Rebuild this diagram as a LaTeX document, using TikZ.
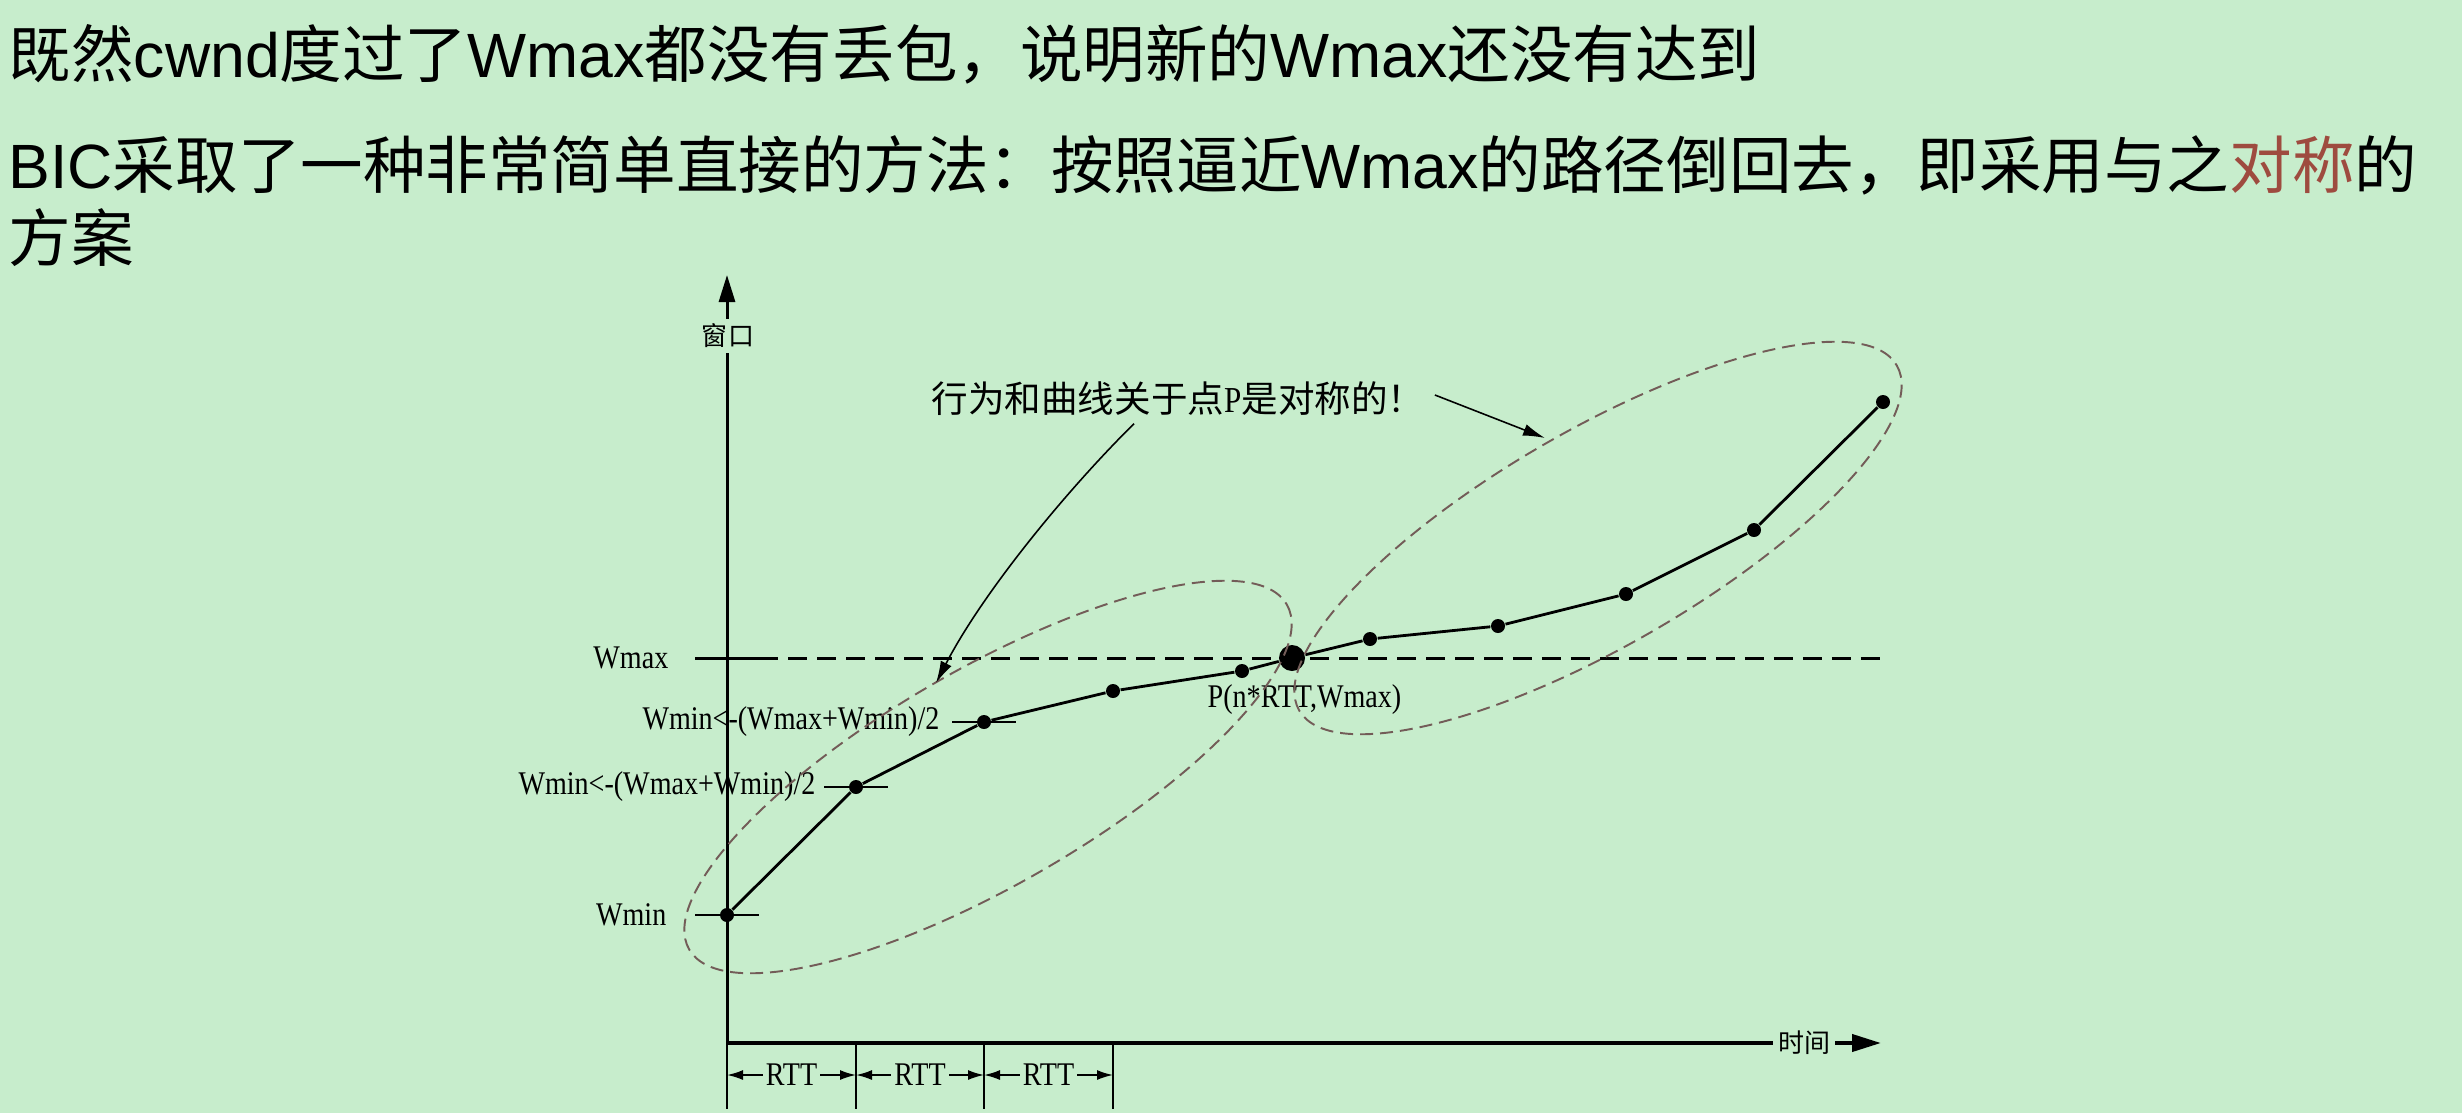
\documentclass[tikz,border=0pt]{standalone}
\usepackage{fontspec}
\setmainfont{Liberation Sans}
\newfontfamily\cjkfont{Noto Sans CJK SC}
\newfontfamily\latinhd{Liberation Sans}
\newfontfamily\plotfont[FakeStretch=0.85]{Liberation Serif}
\usetikzlibrary{arrows.meta}
\definecolor{PaperGreen}{HTML}{C7EDCC}
\definecolor{LoopRed}{HTML}{735C58}
\definecolor{KeyRed}{HTML}{9E4B3F}
\newcommand{\hdlat}[1]{{\latinhd #1}}
\tikzset{
  headline/.style={
    anchor=base west,
    inner sep=0pt,
    font=\fontsize{17.8}{20.8}\selectfont\cjkfont
  },
  yaxis/.style={line width=0.85pt, -{Triangle[length=2.7mm,width=1.6mm]}},
  xaxis/.style={line width=1.15pt, -{Triangle[length=2.9mm,width=1.7mm]}},
  axislabel/.style={fill=PaperGreen, inner sep=0.5mm, font=\fontsize{7.4}{8}\selectfont\cjkfont},
  wlabel/.style={anchor=east, inner sep=0pt, font=\fontsize{9.4}{10}\selectfont\plotfont},
  notelabel/.style={inner sep=0pt, font=\fontsize{10.4}{11}\selectfont\cjkfont},
  ptdot/.style={circle, fill=black, minimum size=1.4mm, inner sep=0pt},
  bigdot/.style={ptdot, minimum size=2.6mm},
  curveline/.style={line width=0.8pt},
  tickline/.style={line width=0.6pt},
  wmaxline/.style={line width=0.85pt, dash pattern=on 1.9mm off 1.0mm},
  loopline/.style={draw=LoopRed, line width=0.55pt, dash pattern=on 1.3mm off 0.7mm},
  callout/.style={-{Latex[length=2.2mm,width=1.2mm]}, line width=0.45pt},
  rttarrow/.style={{Latex[length=1.6mm,width=1mm]}-{Latex[length=1.6mm,width=1mm]}, line width=0.5pt},
  rttlabel/.style={fill=PaperGreen, inner sep=0.3mm, font=\fontsize{9.4}{10}\selectfont\plotfont}
}

\begin{document}
\begin{tikzpicture}[x=0.1mm, y=-0.1mm]
  \useasboundingbox (0,0) rectangle (2462,1113);
  \fill[PaperGreen] (0,0) rectangle (2462,1113);

  % slide text
  \node[headline] (h1) at (8,77) {既然\hdlat{cwnd}度过了\hdlat{Wmax}都没有丢包，说明新的\hdlat{Wmax}还没有达到};
  \node[headline] (h2) at (8,188) {\hdlat{BIC}采取了一种非常简单直接的方法：按照逼近\hdlat{Wmax}的路径倒回去，即采用与之\textcolor{KeyRed}{对称}的};
  \node[headline] (h3) at (8,261) {方案};

  % axes
  \coordinate (o) at (727,1043);
  \coordinate (ytop) at (727,275);
  \coordinate (xend) at (1881,1043);
  \draw[yaxis] (o) -- (ytop);
  \draw[xaxis] (o) -- (xend);
  \node[axislabel] (ylab) at (728,336) {窗口};
  \node[axislabel] (xlab) at (1804,1043) {时间};

  % Wmax level
  \coordinate (wm) at (727,658);
  \coordinate (wmend) at (1884,658);
  \draw[wmaxline] ([xshift=3.2mm]wm) -- (wmend);
  \draw[tickline, line width=0.85pt] (wm) +(-32,0) -- +(32,0);
  \node[wlabel] (lmax) at (669,658) {Wmax};

  % window points
  \node[ptdot] (w0) at (727,915) {};
  \node[ptdot] (w1) at (856,787) {};
  \node[ptdot] (w2) at (984,722) {};
  \node[ptdot] (w3) at (1113,691) {};
  \node[ptdot] (w4) at (1242,671) {};
  \node[bigdot] (pP) at (1292,658) {};
  \node[ptdot] (w5) at (1370,639) {};
  \node[ptdot] (w6) at (1498,626) {};
  \node[ptdot] (w7) at (1626,594) {};
  \node[ptdot] (w8) at (1754,530) {};
  \node[ptdot] (w9) at (1883,402) {};

  \draw[curveline] (w0) -- (w1) -- (w2) -- (w3) -- (w4) -- (pP) -- (w5) -- (w6) -- (w7) -- (w8) -- (w9);

  \draw[tickline] (w0.center) +(-32,0) -- +(32,0);
  \draw[tickline] (w1.center) +(-32,0) -- +(32,0);
  \draw[tickline] (w2.center) +(-32,0) -- +(32,0);

  \node[wlabel] (lmin) at (667,915) {Wmin};
  \node[wlabel] (lhalf1) at (816,787) {Wmin<-(Wmax+Wmin)/2};
  \node[wlabel] (lhalf2) at (940,722) {Wmin<-(Wmax+Wmin)/2};
  \node[wlabel, anchor=west] (lp) at (1207,700) {P(n*RTT,Wmax)};

  % symmetric regions
  \coordinate (c1) at (988,777);
  \coordinate (c2) at (1598,538);
  \draw[loopline, rotate around={30:(c1)}] (c1) ellipse [x radius=345, y radius=108];
  \draw[loopline, rotate around={30:(c2)}] (c2) ellipse [x radius=345, y radius=108];

  \node[notelabel] (note) at (1178,399) {行为和曲线关于点{\plotfont P}是对称的！};
  \coordinate (e1) at (936,683);
  \coordinate (e2) at (1545,438);
  \draw[callout] ([xshift=-4.4mm,yshift=-0.7mm]note.south) .. controls (1064,493) and (982,594) .. (e1);
  \draw[callout] ([xshift=1.0mm,yshift=0.4mm]note.east) -- (e2);

  % RTT marks
  \coordinate (t0) at (727,1043);
  \coordinate (t1) at (856,1043);
  \coordinate (t2) at (984,1043);
  \coordinate (t3) at (1113,1043);
  \draw[tickline] (t0) -- +(0,66);
  \draw[tickline] (t1) -- +(0,66);
  \draw[tickline] (t2) -- +(0,66);
  \draw[tickline] (t3) -- +(0,66);
  \coordinate (r0) at (727,1075);
  \coordinate (r1) at (856,1075);
  \coordinate (r2) at (984,1075);
  \coordinate (r3) at (1113,1075);
  \draw[rttarrow] (r0) -- node[rttlabel] (rtt1) {RTT} (r1);
  \draw[rttarrow] (r1) -- node[rttlabel] (rtt2) {RTT} (r2);
  \draw[rttarrow] (r2) -- node[rttlabel] (rtt3) {RTT} (r3);
\end{tikzpicture}
\end{document}
